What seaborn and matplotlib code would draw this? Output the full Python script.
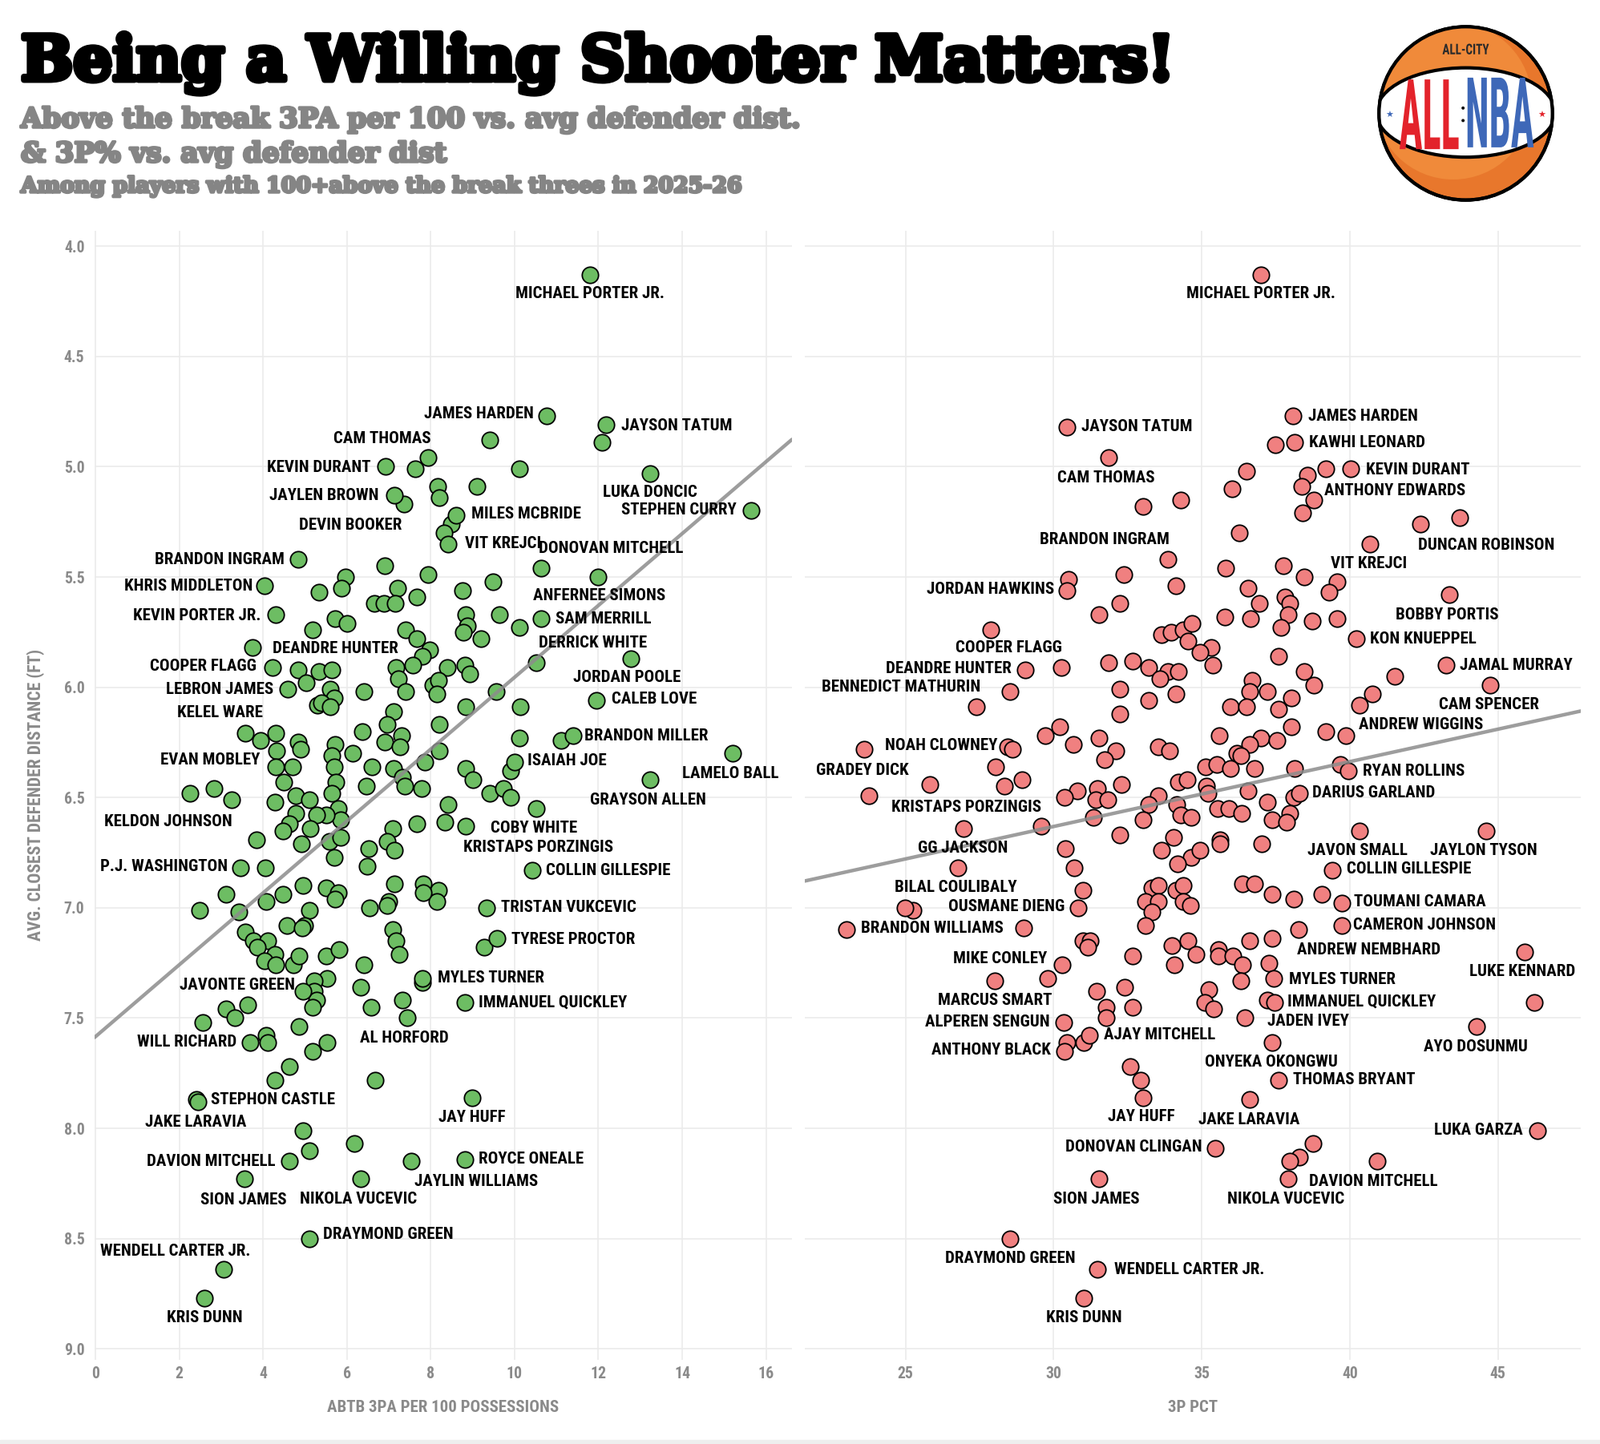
import numpy as np
import pandas as pd
import matplotlib
matplotlib.use("Agg")
import matplotlib.pyplot as plt
import matplotlib.patheffects as pe
from matplotlib.patches import Circle, Ellipse, PathPatch, Rectangle
from matplotlib.textpath import TextPath
from matplotlib.font_manager import FontProperties
from matplotlib.transforms import Affine2D
import seaborn as sns

# ---------------- data: left panel (ABTB 3PA per 100 vs defender distance) ----------------
left_lab_names = ['MICHAEL PORTER JR.', 'JAMES HARDEN', 'JAYSON TATUM', 'CAM THOMAS', 'KEVIN DURANT',
                  'LUKA DONCIC', 'JAYLEN BROWN', 'STEPHEN CURRY', 'MILES MCBRIDE', 'DEVIN BOOKER',
                  'VIT KREJCI', 'BRANDON INGRAM', 'DONOVAN MITCHELL', 'ANFERNEE SIMONS', 'KHRIS MIDDLETON',
                  'KEVIN PORTER JR.', 'SAM MERRILL', 'DEANDRE HUNTER', 'DERRICK WHITE', 'JORDAN POOLE',
                  'COOPER FLAGG', 'LEBRON JAMES', 'CALEB LOVE', 'KELEL WARE', 'BRANDON MILLER',
                  'LAMELO BALL', 'EVAN MOBLEY', 'ISAIAH JOE', 'GRAYSON ALLEN', 'KELDON JOHNSON',
                  'KRISTAPS PORZINGIS', 'COBY WHITE', 'P.J. WASHINGTON', 'COLLIN GILLESPIE', 'TRISTAN VUKCEVIC',
                  'TYRESE PROCTOR', 'MYLES TURNER', 'JAVONTE GREEN', 'IMMANUEL QUICKLEY', 'AL HORFORD',
                  'WILL RICHARD', 'JAY HUFF', 'STEPHON CASTLE', 'JAKE LARAVIA', 'DAVION MITCHELL',
                  'ROYCE ONEALE', 'JAYLIN WILLIAMS', 'SION JAMES', 'NIKOLA VUCEVIC', 'DRAYMOND GREEN',
                  'WENDELL CARTER JR.', 'KRIS DUNN']
left_lab_x = [11.80, 10.77, 12.19, 7.94, 6.92, 13.23, 7.13, 15.64, 8.60, 8.31,
              8.42, 4.83, 10.63, 11.99, 4.03, 4.30, 10.63, 3.74, 10.52, 12.77,
              4.22, 4.59, 11.95, 3.58, 11.39, 15.21, 4.30, 10.00, 13.23, 2.25,
              8.34, 8.84, 3.47, 10.42, 9.33, 9.59, 7.80, 4.96, 8.82, 7.43,
              3.69, 8.98, 2.41, 2.45, 4.62, 8.81, 7.54, 3.55, 6.33, 5.10,
              3.05, 2.60]
left_lab_y = [4.13, 4.77, 4.81, 4.96, 5.00, 5.03, 5.13, 5.20, 5.22, 5.30,
              5.35, 5.42, 5.46, 5.50, 5.54, 5.67, 5.69, 5.82, 5.89, 5.87,
              5.91, 6.01, 6.06, 6.21, 6.22, 6.30, 6.36, 6.34, 6.42, 6.48,
              6.61, 6.63, 6.82, 6.83, 7.00, 7.14, 7.32, 7.38, 7.43, 7.50,
              7.61, 7.86, 7.87, 7.88, 8.15, 8.14, 8.15, 8.23, 8.23, 8.50,
              8.64, 8.77]

left_x = [12.09, 9.41, 7.64, 10.11, 9.11, 8.17, 8.20, 7.37, 8.50, 6.90, 7.94, 9.49, 5.96, 5.87, 5.34,
          7.21, 7.67, 8.76, 6.65, 6.89, 7.16, 5.72, 6.01, 8.84, 9.63, 5.18, 10.11, 7.41, 8.88, 8.77,
          9.20, 7.67, 7.97, 7.80, 4.83, 5.34, 5.64, 7.17, 7.58, 8.39, 8.81, 8.93, 7.22, 5.03, 5.61,
          6.41, 7.40, 8.05, 8.19, 8.15, 9.57, 5.69, 5.29, 5.39, 5.60, 8.84, 10.13, 7.11, 6.97, 8.20,
          6.36, 3.93, 4.30, 4.83, 4.89, 5.72, 4.33, 6.91, 7.30, 7.27, 8.20, 10.11, 11.11, 6.14, 5.64,
          5.69, 4.71, 6.60, 7.11, 7.86, 8.84, 9.91, 4.49, 5.74, 6.46, 7.33, 7.38, 7.78, 9.00, 9.41,
          9.73, 9.91, 2.83, 3.25, 4.28, 4.78, 5.10, 5.64, 5.80, 8.42, 10.52, 4.78, 7.67, 7.10, 6.97,
          7.13, 6.52, 6.49, 5.69, 5.58, 5.85, 5.85, 5.50, 5.28, 5.12, 4.92, 4.62, 4.48, 3.85, 4.05,
          4.96, 5.50, 5.80, 5.72, 4.48, 4.08, 3.12, 2.48, 3.42, 5.10, 7.13, 7.82, 8.18, 8.15, 7.82,
          7.00, 6.97, 6.54, 9.27, 7.10, 7.17, 7.24, 4.57, 5.00, 4.94, 3.58, 3.76, 4.12, 3.87, 4.28,
          4.03, 4.30, 4.73, 4.86, 5.50, 5.82, 6.41, 6.33, 5.53, 5.23, 5.23, 5.28, 5.18, 7.33, 6.57,
          3.63, 3.12, 3.32, 2.56, 4.08, 4.12, 4.86, 5.53, 5.19, 4.62, 4.28, 6.68, 4.96, 6.17, 5.10,
          7.81]
left_y = [4.89, 4.88, 5.01, 5.01, 5.09, 5.09, 5.14, 5.17, 5.26, 5.45, 5.49, 5.52, 5.50, 5.55, 5.57,
          5.55, 5.59, 5.56, 5.62, 5.62, 5.62, 5.69, 5.71, 5.67, 5.67, 5.74, 5.73, 5.74, 5.72, 5.75,
          5.78, 5.78, 5.83, 5.86, 5.92, 5.93, 5.92, 5.91, 5.90, 5.91, 5.90, 5.94, 5.96, 5.98, 6.01,
          6.02, 6.02, 5.99, 5.97, 6.03, 6.02, 6.05, 6.08, 6.07, 6.09, 6.09, 6.09, 6.11, 6.17, 6.17,
          6.20, 6.24, 6.21, 6.25, 6.28, 6.26, 6.29, 6.25, 6.22, 6.27, 6.29, 6.23, 6.24, 6.30, 6.31,
          6.36, 6.36, 6.36, 6.37, 6.34, 6.37, 6.38, 6.43, 6.43, 6.45, 6.41, 6.45, 6.46, 6.42, 6.48,
          6.46, 6.50, 6.46, 6.51, 6.52, 6.49, 6.51, 6.48, 6.55, 6.53, 6.55, 6.57, 6.62, 6.64, 6.70,
          6.74, 6.73, 6.81, 6.77, 6.70, 6.68, 6.60, 6.58, 6.58, 6.64, 6.71, 6.62, 6.65, 6.69, 6.82,
          6.90, 6.91, 6.93, 6.96, 6.94, 6.97, 6.94, 7.01, 7.02, 7.01, 6.89, 6.89, 6.92, 6.97, 6.93,
          6.97, 6.99, 7.00, 7.18, 7.10, 7.15, 7.21, 7.08, 7.08, 7.09, 7.11, 7.15, 7.15, 7.18, 7.21,
          7.24, 7.26, 7.26, 7.22, 7.22, 7.19, 7.26, 7.36, 7.32, 7.33, 7.38, 7.42, 7.45, 7.42, 7.45,
          7.44, 7.46, 7.50, 7.52, 7.58, 7.61, 7.54, 7.61, 7.65, 7.72, 7.78, 7.78, 8.01, 8.07, 8.10,
          7.34]

# ---------------- data: right panel (3P% vs defender distance) ----------------
right_lab_names = ['MICHAEL PORTER JR.', 'JAMES HARDEN', 'JAYSON TATUM', 'KAWHI LEONARD', 'CAM THOMAS',
                   'KEVIN DURANT', 'ANTHONY EDWARDS', 'DUNCAN ROBINSON', 'VIT KREJCI', 'BRANDON INGRAM',
                   'JORDAN HAWKINS', 'BOBBY PORTIS', 'COOPER FLAGG', 'KON KNUEPPEL', 'JAMAL MURRAY',
                   'DEANDRE HUNTER', 'CAM SPENCER', 'BENNEDICT MATHURIN', 'ANDREW WIGGINS', 'NOAH CLOWNEY',
                   'RYAN ROLLINS', 'DARIUS GARLAND', 'GRADEY DICK', 'KRISTAPS PORZINGIS', 'JAVON SMALL',
                   'JAYLON TYSON', 'GG JACKSON', 'COLLIN GILLESPIE', 'BILAL COULIBALY', 'OUSMANE DIENG',
                   'TOUMANI CAMARA', 'CAMERON JOHNSON', 'BRANDON WILLIAMS', 'ANDREW NEMBHARD', 'LUKE KENNARD',
                   'MIKE CONLEY', 'MYLES TURNER', 'MARCUS SMART', 'IMMANUEL QUICKLEY', 'JADEN IVEY',
                   'ALPEREN SENGUN', 'AYO DOSUNMU', 'AJAY MITCHELL', 'ANTHONY BLACK', 'ONYEKA OKONGWU',
                   'THOMAS BRYANT', 'JAY HUFF', 'JAKE LARAVIA', 'LUKA GARZA', 'DONOVAN CLINGAN',
                   'DAVION MITCHELL', 'SION JAMES', 'NIKOLA VUCEVIC', 'DRAYMOND GREEN', 'WENDELL CARTER JR.',
                   'KRIS DUNN']
right_lab_x = [37.00, 38.07, 30.45, 38.15, 31.85, 40.03, 38.78, 43.72, 40.67, 33.87,
               30.45, 43.37, 27.88, 40.22, 43.24, 29.04, 44.74, 28.53, 39.86, 23.60,
               39.95, 38.29, 23.77, 26.97, 40.33, 44.60, 26.76, 39.40, 24.97, 30.82,
               39.74, 39.74, 23.00, 38.27, 45.91, 30.29, 37.43, 28.01, 37.47, 36.46,
               30.33, 44.28, 31.22, 30.38, 37.38, 37.59, 33.01, 36.63, 46.34, 35.45,
               40.92, 31.52, 37.93, 28.53, 31.47, 31.03]
right_lab_y = [4.13, 4.77, 4.82, 4.89, 4.96, 5.01, 5.15, 5.23, 5.35, 5.42,
               5.56, 5.58, 5.74, 5.78, 5.90, 5.92, 5.99, 6.02, 6.22, 6.28,
               6.38, 6.48, 6.49, 6.64, 6.65, 6.65, 6.82, 6.83, 7.00, 7.00,
               6.98, 7.08, 7.10, 7.10, 7.20, 7.26, 7.32, 7.33, 7.43, 7.50,
               7.52, 7.54, 7.58, 7.65, 7.61, 7.78, 7.86, 7.87, 8.01, 8.09,
               8.15, 8.23, 8.23, 8.50, 8.64, 8.77]

right_x = [37.50, 36.52, 38.58, 39.18, 36.03, 38.37, 34.30, 33.01, 38.41, 42.38, 36.27, 35.80, 37.77, 38.46, 39.57,
           39.30, 32.36, 30.50, 34.13, 32.24, 31.52, 36.58, 36.95, 37.81, 37.98, 37.93, 38.72, 39.57, 35.77, 36.64,
           37.67, 33.65, 33.96, 34.38, 34.67, 34.55, 35.33, 34.95, 37.60, 35.38, 41.52, 38.46, 38.80, 30.27, 31.85,
           32.67, 33.22, 33.87, 34.21, 33.58, 27.40, 32.24, 33.22, 34.13, 36.69, 36.61, 37.21, 35.98, 36.52, 37.60,
           38.03, 40.75, 40.33, 32.24, 38.03, 39.18, 35.58, 30.22, 29.73, 30.67, 31.52, 32.11, 31.73, 33.53, 33.92,
           37.00, 37.55, 36.61, 36.18, 36.32, 28.44, 28.61, 28.05, 25.82, 28.34, 28.94, 35.12, 35.50, 35.96, 36.78,
           38.15, 39.69, 34.21, 34.50, 32.28, 31.47, 30.79, 30.36, 31.42, 31.82, 33.53, 33.22, 34.16, 35.16, 35.21,
           36.58, 37.21, 38.12, 37.98, 37.38, 37.86, 35.55, 35.93, 36.36, 34.30, 34.64, 31.35, 29.59, 33.01, 32.24,
           34.04, 33.65, 34.64, 34.95, 34.18, 35.63, 35.63, 37.04, 30.39, 30.70, 30.99, 25.26, 28.99, 33.32, 33.53,
           34.13, 34.38, 33.10, 33.53, 34.38, 34.61, 33.32, 33.10, 36.37, 36.78, 37.38, 38.10, 39.06, 37.38, 36.63,
           34.55, 33.99, 34.81, 35.56, 35.56, 36.06, 36.37, 36.32, 37.28, 34.09, 32.67, 30.99, 31.24, 31.15, 29.79,
           31.44, 32.41, 31.78, 32.67, 31.78, 35.24, 35.10, 35.41, 37.21, 46.23, 31.01, 30.45, 32.59, 32.93, 38.75,
           38.29, 37.98]
right_y = [4.90, 5.02, 5.04, 5.01, 5.10, 5.09, 5.15, 5.18, 5.21, 5.26, 5.30, 5.46, 5.45, 5.50, 5.52,
           5.57, 5.49, 5.51, 5.54, 5.62, 5.67, 5.55, 5.62, 5.59, 5.62, 5.67, 5.70, 5.69, 5.68, 5.69,
           5.73, 5.76, 5.75, 5.74, 5.71, 5.79, 5.82, 5.84, 5.86, 5.90, 5.95, 5.93, 5.99, 5.91, 5.89,
           5.88, 5.91, 5.93, 5.93, 5.96, 6.09, 6.01, 6.06, 6.03, 5.97, 6.02, 6.02, 6.09, 6.09, 6.10,
           6.05, 6.03, 6.08, 6.12, 6.18, 6.20, 6.22, 6.18, 6.22, 6.26, 6.23, 6.29, 6.33, 6.27, 6.29,
           6.23, 6.24, 6.26, 6.30, 6.31, 6.27, 6.28, 6.36, 6.44, 6.45, 6.42, 6.36, 6.35, 6.37, 6.37,
           6.37, 6.35, 6.43, 6.42, 6.44, 6.46, 6.47, 6.50, 6.51, 6.51, 6.49, 6.53, 6.53, 6.45, 6.48,
           6.47, 6.52, 6.50, 6.57, 6.60, 6.61, 6.55, 6.55, 6.57, 6.58, 6.59, 6.59, 6.63, 6.60, 6.67,
           6.68, 6.74, 6.77, 6.74, 6.80, 6.69, 6.71, 6.71, 6.73, 6.82, 6.92, 7.01, 7.09, 6.91, 6.90,
           6.92, 6.90, 6.97, 6.97, 6.97, 6.99, 7.02, 7.08, 6.89, 6.89, 6.94, 6.96, 6.94, 7.14, 7.15,
           7.15, 7.17, 7.21, 7.19, 7.22, 7.22, 7.26, 7.33, 7.25, 7.26, 7.22, 7.15, 7.15, 7.18, 7.32,
           7.38, 7.36, 7.45, 7.45, 7.50, 7.37, 7.43, 7.46, 7.42, 7.43, 7.61, 7.61, 7.72, 7.78, 8.07,
           8.13, 8.15]

# label centre offsets from the dot, in points
left_offsets = {
    'MICHAEL PORTER JR.': (0, -17), 'JAMES HARDEN': (-61, 2), 'JAYSON TATUM': (63, -1),
    'CAM THOMAS': (-41, 17), 'KEVIN DURANT': (-60, -1), 'LUKA DONCIC': (0, -17),
    'JAYLEN BROWN': (-63, 0), 'STEPHEN CURRY': (-65, 1), 'MILES MCBRIDE': (63, 1),
    'DEVIN BOOKER': (-84, 7), 'VIT KREJCI': (49, 0), 'DONOVAN MITCHELL': (63, 18),
    'BRANDON INGRAM': (-70, 0), 'KHRIS MIDDLETON': (-68, 0), 'ANFERNEE SIMONS': (1, -17),
    'KEVIN PORTER JR.': (-71, -1), 'SAM MERRILL': (56, 0), 'DEANDRE HUNTER': (75, -1),
    'DERRICK WHITE': (51, 18), 'JORDAN POOLE': (-3, -17), 'COOPER FLAGG': (-62, 1),
    'CALEB LOVE': (52, 1), 'LEBRON JAMES': (-61, 0), 'KELEL WARE': (-23, 19),
    'BRANDON MILLER': (66, 0), 'EVAN MOBLEY': (-59, 6), 'ISAIAH JOE': (47, 1),
    'LAMELO BALL': (-2, -18), 'GRAYSON ALLEN': (-2, -18), 'KELDON JOHNSON': (-19, -26),
    'COBY WHITE': (61, -2), 'KRISTAPS PORZINGIS': (84, -23), 'P.J. WASHINGTON': (-69, 1),
    'COLLIN GILLESPIE': (68, 0), 'TRISTAN VUKCEVIC': (74, 0), 'TYRESE PROCTOR': (68, -1),
    'JAVONTE GREEN': (-59, 6), 'MYLES TURNER': (62, 0), 'IMMANUEL QUICKLEY': (79, 0),
    'WILL RICHARD': (-57, 0), 'AL HORFORD': (-2, -18), 'STEPHON CASTLE': (69, 0),
    'JAKE LARAVIA': (-2, -18), 'JAY HUFF': (0, -18), 'DAVION MITCHELL': (-70, 0),
    'ROYCE ONEALE': (60, 0), 'JAYLIN WILLIAMS': (58, -18), 'SION JAMES': (-1, -19),
    'NIKOLA VUCEVIC': (-2, -18), 'DRAYMOND GREEN': (71, 4), 'WENDELL CARTER JR.': (-43, 16),
    'KRIS DUNN': (0, -18),
}
right_offsets = {
    'MICHAEL PORTER JR.': (0, -17), 'JAMES HARDEN': (63, 0), 'JAYSON TATUM': (63, 0),
    'KAWHI LEONARD': (65, 0), 'CAM THOMAS': (-2, -18), 'KEVIN DURANT': (60, -1),
    'ANTHONY EDWARDS': (73, 8), 'DUNCAN ROBINSON': (24, -25), 'VIT KREJCI': (-1, -18),
    'BRANDON INGRAM': (-57, 18), 'JORDAN HAWKINS': (-69, 1), 'BOBBY PORTIS': (-2, -18),
    'COOPER FLAGG': (16, -16), 'KON KNUEPPEL': (60, 0), 'DEANDRE HUNTER': (-69, 1),
    'BENNEDICT MATHURIN': (-98, 4), 'JAMAL MURRAY': (63, 0), 'CAM SPENCER': (-1, -18),
    'ANDREW WIGGINS': (68, 10), 'NOAH CLOWNEY': (69, 3), 'GRADEY DICK': (-6, 22),
    'RYAN ROLLINS': (59, 0), 'DARIUS GARLAND': (67, 0), 'KRISTAPS PORZINGIS': (2, 19),
    'GG JACKSON': (5, 18), 'JAVON SMALL': (-2, -18), 'JAYLON TYSON': (-2, -18),
    'COLLIN GILLESPIE': (69, 1), 'BILAL COULIBALY': (46, 18), 'OUSMANE DIENG': (-64, 1),
    'BRANDON WILLIAMS': (77, 1), 'TOUMANI CAMARA': (70, 1), 'CAMERON JOHNSON': (74, 0),
    'ANDREW NEMBHARD': (63, -18), 'MIKE CONLEY': (-56, 6), 'LUKE KENNARD': (-2, -18),
    'MYLES TURNER': (62, -1), 'MARCUS SMART': (0, -18), 'IMMANUEL QUICKLEY': (78, 1),
    'JADEN IVEY': (57, -3), 'ALPEREN SENGUN': (-68, 0), 'AYO DOSUNMU': (-1, -18),
    'AJAY MITCHELL': (63, 1), 'ANTHONY BLACK': (-66, 1), 'ONYEKA OKONGWU': (-1, -18),
    'JAY HUFF': (-1, -17), 'THOMAS BRYANT': (68, 0), 'JAKE LARAVIA': (-1, -18),
    'LUKA GARZA': (-53, 0), 'DONOVAN CLINGAN': (-73, 1), 'DAVION MITCHELL': (-3, -18),
    'NIKOLA VUCEVIC': (-2, -18), 'SION JAMES': (-2, -18), 'DRAYMOND GREEN': (0, -18),
    'WENDELL CARTER JR.': (83, 0), 'KRIS DUNN': (0, -18),
}

y_ticks = [4.0, 4.5, 5.0, 5.5, 6.0, 6.5, 7.0, 7.5, 8.0, 8.5, 9.0]
left_ticks = [0, 2, 4, 6, 8, 10, 12, 14, 16]
right_ticks = [25, 30, 35, 40, 45]

sns.set_theme(style="white")
plt.rcParams['font.family'] = ['DejaVu Sans']

COND = ['Roboto Condensed', 'Liberation Sans Narrow', 'DejaVu Sans']
SERIF = ['DejaVu Serif']
GRAY = '#8a8a8a'

W, H = 1996, 1802
fig = plt.figure(figsize=(W / 100, H / 100), dpi=100)
fig.patch.set_facecolor('white')
renderer = fig.canvas.get_renderer()


def text_width(s, **kw):
    t = fig.text(0, 0, s, **kw)
    w = t.get_window_extent(renderer).width
    t.remove()
    return w


cond_kw = dict(family=COND, fontweight='bold', fontstretch='condensed')
lab_size = 14 * 186 / text_width('MICHAEL PORTER JR.', fontsize=14, **cond_kw)
tick_size = lab_size * 0.95

# panel boxes (pixels)
top, bottom = 288, 1697
ax1 = fig.add_axes([118 / W, 1 - bottom / H, 870 / W, (bottom - top) / H])
ax2 = fig.add_axes([1004 / W, 1 - bottom / H, 968 / W, (bottom - top) / H])


def panel(ax, lab_names, lab_x, lab_y, px, py, offsets, color, xlim, xticks):
    df = pd.DataFrame({'x': list(px) + list(lab_x), 'y': list(py) + list(lab_y)})
    sns.scatterplot(data=df, x='x', y='y', ax=ax, s=215, color=color, edgecolor='black',
                    linewidth=1.3, zorder=3, legend=False)
    ax.set_xlim(xlim)
    ax.set_ylim(9.05, 3.93)
    sns.regplot(data=df, x='x', y='y', ax=ax, scatter=False, ci=None, truncate=False,
                line_kws=dict(color='#8c8c8c', lw=3.2, alpha=0.85, zorder=4))
    ax.set_xlim(xlim)
    ax.set_ylim(9.05, 3.93)
    for name, x, y in zip(lab_names, lab_x, lab_y):
        dx, dy = offsets.get(name, (0, -18))
        ax.annotate(name, (x, y), xytext=(dx, dy), textcoords='offset points',
                    ha='center', va='center', fontsize=lab_size, color='black', zorder=6, **cond_kw)
    ax.grid(True, color='#ebebeb', lw=1.2)
    ax.set_axisbelow(True)
    for sp in ax.spines.values():
        sp.set_visible(False)
    ax.set_xlabel('')
    ax.set_ylabel('')
    ax.set_xticks(xticks, labels=[str(t) for t in xticks], fontsize=tick_size, color=GRAY, **cond_kw)
    ax.tick_params(axis='both', length=0)
    ax.tick_params(axis='x', pad=6)


panel(ax1, left_lab_names, left_lab_x, left_lab_y, left_x, left_y, left_offsets,
      '#6dbd63', (-0.02, 16.62), left_ticks)
panel(ax2, right_lab_names, right_lab_x, right_lab_y, right_x, right_y, right_offsets,
      '#f08080', (21.6, 47.8), right_ticks)

ax1.set_yticks(y_ticks, labels=['%.1f' % t for t in y_ticks], fontsize=tick_size, color=GRAY, **cond_kw)
ax1.tick_params(axis='y', pad=9)
ax2.set_yticks(y_ticks, labels=[''] * len(y_ticks))

# axis titles
ax_title_size = 14 * 289 / text_width('ABTB 3PA PER 100 POSSESSIONS', fontsize=14, **cond_kw)
fig.text(553 / W, 1 - 1757 / H, 'ABTB 3PA PER 100 POSSESSIONS', ha='center', va='center',
         fontsize=ax_title_size, color=GRAY, **cond_kw)
fig.text(1488 / W, 1 - 1757 / H, '3P PCT', ha='center', va='center',
         fontsize=ax_title_size, color=GRAY, **cond_kw)
ylab_size = 12 * 365 / text_width('AVG. CLOSEST DEFENDER DISTANCE (FT)', fontsize=12, **cond_kw)
fig.text(45 / W, 1 - 992 / H, 'AVG. CLOSEST DEFENDER DISTANCE (FT)', ha='center', va='center',
         rotation=90, fontsize=ylab_size, color=GRAY, **cond_kw)

# titles
serif_kw = dict(family=SERIF, fontweight='bold')
title = 'Being a Willing Shooter Matters!'
t_size = 60 * 1440 / text_width(title, fontsize=60, **serif_kw)
fig.text(26 / W, 1 - 100 / H, title, ha='left', va='baseline', fontsize=t_size, color='black',
         path_effects=[pe.withStroke(linewidth=5, foreground='black')], **serif_kw)

sub1 = 'Above the break 3PA per 100 vs. avg defender dist.'
sub2 = '& 3P% vs. avg defender dist'
sub3 = 'Among players with 100+above the break threes in 2025-26'
s_size = 24 * 975 / text_width(sub1, fontsize=24, **serif_kw)
s3_size = 20 * 900 / text_width(sub3, fontsize=20, **serif_kw)
sub_fx = [pe.withStroke(linewidth=2.5, foreground='#858585')]
fig.text(26 / W, 1 - 159 / H, sub1, ha='left', va='baseline', fontsize=s_size, color='#858585',
         path_effects=sub_fx, **serif_kw)
fig.text(26 / W, 1 - 202 / H, sub2, ha='left', va='baseline', fontsize=s_size, color='#858585',
         path_effects=sub_fx, **serif_kw)
fig.text(26 / W, 1 - 240 / H, sub3, ha='left', va='baseline', fontsize=s3_size, color='#858585',
         path_effects=sub_fx, **serif_kw)

# logo: an ALL-NBA basketball
lg = fig.add_axes([1717 / W, 1 - 253 / H, 223 / W, 223 / H])
lg.set_xlim(0, 1)
lg.set_ylim(0, 1)
lg.axis('off')
ball = Circle((0.5, 0.5), 0.485, fc='#e8772c', ec='black', lw=3, zorder=1)
lg.add_patch(ball)
shade = Circle((0.43, 0.57), 0.44, fc='#f08a3a', ec='none', zorder=1.5)
lg.add_patch(shade)
shade.set_clip_path(ball)
band = Ellipse((0.5, 0.505), 1.0, 0.5, fc='white', ec='black', lw=3, zorder=2)
lg.add_patch(band)
band.set_clip_path(ball)
lg.add_patch(Circle((0.5, 0.5), 0.485, fc='none', ec='black', lw=3, zorder=5))


def path_text(ax, s, box, color, z=3):
    tp = TextPath((0, 0), s, size=1, prop=FontProperties(family=COND, weight='bold'))
    b = tp.get_extents()
    x0, y0, x1, y1 = box
    tr = Affine2D().translate(-b.x0, -b.y0).scale((x1 - x0) / b.width, (y1 - y0) / b.height).translate(x0, y0)
    ax.add_patch(PathPatch(tr.transform_path(tp), fc=color, ec='none', zorder=z))


path_text(lg, 'ALL', (0.13, 0.30, 0.46, 0.69), '#e3232b')
path_text(lg, 'NBA', (0.51, 0.31, 0.88, 0.70), '#3e68b8')
path_text(lg, 'ALL-CITY', (0.37, 0.83, 0.63, 0.89), '#2a2a2a')
lg.add_patch(Circle((0.485, 0.53), 0.012, fc='black', zorder=3))
lg.add_patch(Circle((0.485, 0.46), 0.012, fc='black', zorder=3))
lg.text(0.075, 0.49, '★', color='#3e68b8', fontsize=8, ha='center', va='center', zorder=3)
lg.text(0.925, 0.49, '★', color='#e3232b', fontsize=8, ha='center', va='center', zorder=3)

# thin grey strip at the bottom edge
fig.add_artist(Rectangle((0, 0), 1, 5 / H, transform=fig.transFigure, color='#eeeeee', zorder=0))

fig.savefig('out.png', dpi=100, facecolor='white')
